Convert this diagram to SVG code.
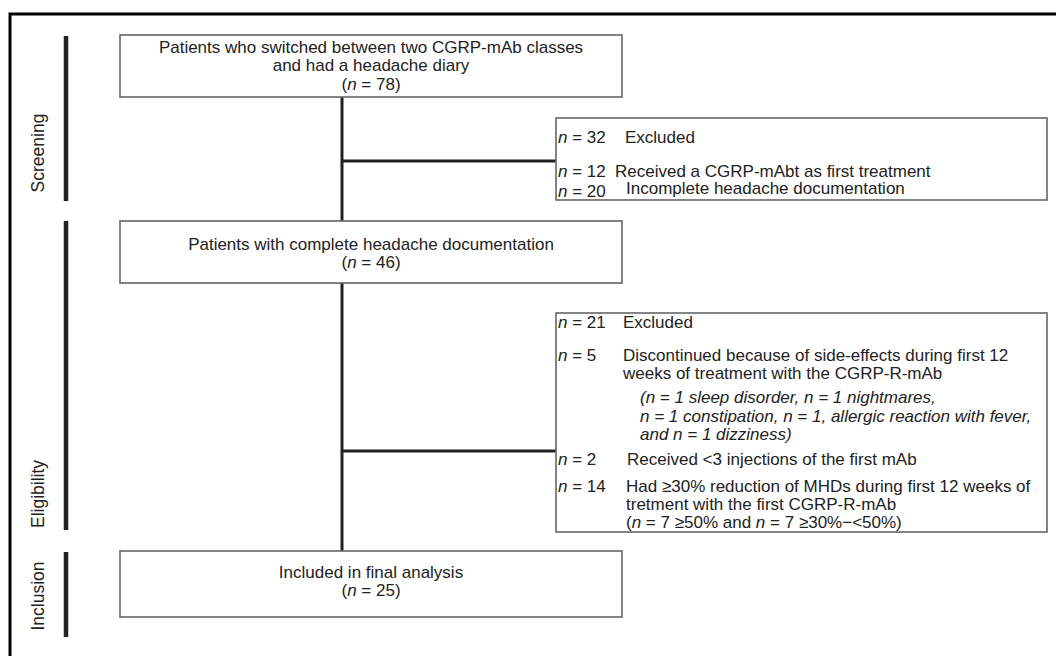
<svg xmlns="http://www.w3.org/2000/svg" width="1056" height="656" viewBox="0 0 1056 656">
<style>
text{font-family:"Liberation Sans",Arial,sans-serif;font-size:17px;fill:#222}
.c{text-anchor:middle}
.i{font-style:italic}
.box{fill:#fff;stroke:#666;stroke-width:1.6}
.conn{stroke:#222;stroke-width:3;fill:none}
.bar{stroke:#222;stroke-width:4.5}
.lab{font-size:17.5px}
</style>
<rect width="1056" height="656" fill="#fff"/>
<path d="M10 656 V14 H1056" fill="none" stroke="#000" stroke-width="3"/>
<g id="phases">
<line class="bar" x1="66" y1="36" x2="66" y2="201"/>
<line class="bar" x1="66" y1="221" x2="66" y2="530"/>
<line class="bar" x1="66" y1="552" x2="66" y2="637"/>
<text class="c lab" transform="translate(44 153) rotate(-90)">Screening</text>
<text class="c lab" transform="translate(44 494) rotate(-90)">Eligibility</text>
<text class="c lab" transform="translate(44 596) rotate(-90)">Inclusion</text>
</g>
<g id="connectors">
<line class="conn" x1="342" y1="97" x2="342" y2="221"/>
<line class="conn" x1="342" y1="161" x2="556" y2="161"/>
<line class="conn" x1="342" y1="283" x2="342" y2="551"/>
<line class="conn" x1="342" y1="451" x2="556" y2="451"/>
</g>
<g id="n1">
<rect class="box" x="120" y="35" width="502" height="62"/>
<text class="c" x="371" y="53">Patients who switched between two CGRP-mAb classes</text>
<text class="c" x="371" y="71">and had a headache diary</text>
<text class="c" x="371" y="90">(<tspan class="i">n</tspan> = 78)</text>
</g>
<g id="n2">
<rect class="box" x="556" y="118" width="491" height="82"/>
<text x="558" y="143"><tspan class="i">n</tspan> = 32</text>
<text x="625" y="143">Excluded</text>
<text x="558" y="177"><tspan class="i">n</tspan> = 12</text>
<text x="615" y="177">Received a CGRP-mAbt as first treatment</text>
<text x="558" y="197"><tspan class="i">n</tspan> = 20</text>
<text x="626" y="194">Incomplete headache documentation</text>
</g>
<g id="n3">
<rect class="box" x="120" y="221" width="502" height="62"/>
<text class="c" x="371" y="250">Patients with complete headache documentation</text>
<text class="c" x="371" y="268">(<tspan class="i">n</tspan> = 46)</text>
</g>
<g id="n4">
<rect class="box" x="556" y="313" width="491" height="219"/>
<text x="558" y="328"><tspan class="i">n</tspan> = 21</text>
<text x="623" y="328">Excluded</text>
<text x="558" y="361"><tspan class="i">n</tspan> = 5</text>
<text x="623" y="361">Discontinued because of side-effects during first 12</text>
<text x="623" y="379">weeks of treatment with the CGRP-R-mAb</text>
<text class="i" x="640" y="403">(n = 1 sleep disorder, n = 1 nightmares,</text>
<text class="i" x="640" y="422">n = 1 constipation, n = 1, allergic reaction with fever,</text>
<text class="i" x="640" y="440">and n = 1 dizziness)</text>
<text x="558" y="465"><tspan class="i">n</tspan> = 2</text>
<text x="627" y="465">Received &lt;3 injections of the first mAb</text>
<text x="558" y="492"><tspan class="i">n</tspan> = 14</text>
<text x="626" y="492">Had ≥30% reduction of MHDs during first 12 weeks of</text>
<text x="626" y="510">tretment with the first CGRP-R-mAb</text>
<text x="626" y="528">(<tspan class="i">n</tspan> = 7 ≥50% and <tspan class="i">n</tspan> = 7 ≥30%−&lt;50%)</text>
</g>
<g id="n5">
<rect class="box" x="120" y="551" width="502" height="66"/>
<text class="c" x="371" y="578">Included in final analysis</text>
<text class="c" x="371" y="596">(<tspan class="i">n</tspan> = 25)</text>
</g>
</svg>
